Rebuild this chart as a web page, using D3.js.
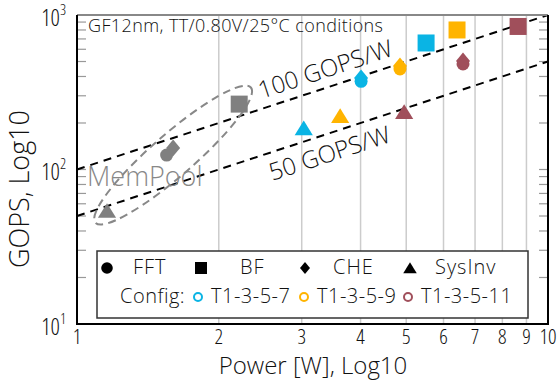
<!DOCTYPE html>
<html>
<head>
<meta charset="utf-8">
<script src="https://cdn.jsdelivr.net/npm/d3@7"></script>
<style>
  body { margin: 0; background: #fff; }
  text { font-family: "Open Sans", "Noto Sans", sans-serif; font-weight: 350; fill: #111; }
</style>
</head>
<body>
<svg id="chart" width="560" height="380"></svg>
<script>
// configs and their colours
const configs = ["MemPool", "T1-3-5-7", "T1-3-5-9", "T1-3-5-11"];
const colors = ["#808080", "#0ab4e4", "#ffb400", "#a04f5b"];

// values per benchmark, one entry per config (Power in W, GOPS)
const fftPower = [1.55, 4.01, 4.85, 6.60];
const fftGops = [124, 372, 447, 482];
const bfPower = [2.21, 5.51, 6.41, 8.64];
const bfGops = [265, 659, 800, 843];
const chePower = [1.60, 4.01, 4.85, 6.60];
const cheGops = [138, 391, 468, 504];
const sysPower = [1.158, 3.03, 3.62, 4.95];
const sysGops = [54, 185, 222, 236];

const benchmarks = ["FFT", "BF", "CHE", "SysInv"];
const xTicks = [1, 2, 3, 4, 5, 6, 7, 8, 9, 10];
const yTicks = [10, 100, 1000];
const efficiency = [100, 50]; // GOPS/W reference lines

const svg = d3.select("#chart");
const pLeft = 77, pRight = 548, pTop = 15, pBottom = 324;

const x = d3.scaleLog().domain([1, 10]).range([pLeft, pRight]);
const y = d3.scaleLog().domain([10, 1000]).range([pBottom, pTop]);

// vertical grid
svg.append("g").selectAll("line")
  .data(xTicks.slice(1, -1))
  .join("line")
  .attr("x1", d => x(d)).attr("x2", d => x(d))
  .attr("y1", pTop).attr("y2", pBottom)
  .attr("stroke", "#cccccc").attr("stroke-width", 1.5);

// minor y ticks on both sides
const minor = [];
[10, 100].forEach(dec => { for (let k = 2; k <= 9; k++) minor.push(dec * k); });
svg.append("g").selectAll("line")
  .data(minor.concat(yTicks))
  .join("line")
  .attr("x1", pLeft).attr("x2", pLeft + 9)
  .attr("y1", d => y(d)).attr("y2", d => y(d))
  .attr("stroke", "#999").attr("stroke-width", 1.2);
svg.append("g").selectAll("line")
  .data(minor.concat(yTicks))
  .join("line")
  .attr("x1", pRight - 9).attr("x2", pRight)
  .attr("y1", d => y(d)).attr("y2", d => y(d))
  .attr("stroke", "#999").attr("stroke-width", 1.2);

// efficiency lines
svg.append("g").selectAll("line")
  .data(efficiency)
  .join("line")
  .attr("x1", x(1)).attr("y1", d => y(d * 1))
  .attr("x2", x(10)).attr("y2", d => y(d * 10))
  .attr("stroke", "#000").attr("stroke-width", 2)
  .attr("stroke-dasharray", "8,6");

const angle = Math.atan2(y(1000) - y(100), x(10) - x(1)) * 180 / Math.PI;
svg.append("text")
  .attr("transform", `translate(${x(3.41)},${y(341) - 10}) rotate(${angle})`)
  .attr("text-anchor", "middle").attr("font-size", 24)
  .text("100 GOPS/W");
svg.append("text")
  .attr("transform", `translate(${x(3.48)},${y(174) + 29}) rotate(${angle})`)
  .attr("text-anchor", "middle").attr("font-size", 24)
  .text("50 GOPS/W");

// MemPool ellipse
const cx = x(1.6), cy = y(124);
svg.append("ellipse")
  .attr("transform", `translate(${cx},${cy}) rotate(-41)`)
  .attr("rx", 103).attr("ry", 21)
  .attr("fill", "none").attr("stroke", "#888").attr("stroke-width", 2)
  .attr("stroke-dasharray", "8,5");

svg.append("text")
  .attr("x", 87).attr("y", 186)
  .attr("font-size", 27).style("fill", "#888")
  .text("MemPool");

// marker shapes
function shape(kind, s) {
  if (kind === "FFT") return d3.symbol(d3.symbolCircle, Math.PI * s * s)();
  if (kind === "BF") return `M${-s},${-s}H${s}V${s}H${-s}Z`;
  if (kind === "CHE") return `M0,${-s * 1.2}L${s},0L0,${s * 1.2}L${-s},0Z`;
  return `M0,${-s * 1.1}L${s * 1.3},${s * 1.0}L${-s * 1.3},${s * 1.0}Z`;
}
const sizes = { FFT: 6.5, BF: 8.5, CHE: 7, SysInv: 7 };

const points = [];
configs.forEach((c, i) => {
  points.push({ b: "FFT", c: i, p: fftPower[i], g: fftGops[i] });
  points.push({ b: "CHE", c: i, p: chePower[i], g: cheGops[i] });
  points.push({ b: "BF", c: i, p: bfPower[i], g: bfGops[i] });
  points.push({ b: "SysInv", c: i, p: sysPower[i], g: sysGops[i] });
});
svg.append("g").selectAll("path")
  .data(points)
  .join("path")
  .attr("transform", d => `translate(${x(d.p)},${y(d.g)})`)
  .attr("d", d => shape(d.b, sizes[d.b]))
  .attr("fill", d => colors[d.c]);

// title
svg.append("text")
  .attr("x", 88).attr("y", 32).attr("font-size", 18).attr("letter-spacing", 0.4)
  .text("GF12nm, TT/0.80V/25°C conditions");

// legend
const lg = svg.append("g");
lg.append("rect")
  .attr("x", 97).attr("y", 251).attr("width", 431).attr("height", 67)
  .attr("fill", "#fff").attr("stroke", "#333").attr("stroke-width", 1.5);
const legX = [107, 201, 305, 410];
const legTx = [133, 240, 333, 435];
const legSz = { FFT: 5.8, BF: 6, CHE: 5, SysInv: 5.2 };
benchmarks.forEach((b, i) => {
  lg.append("path")
    .attr("transform", `translate(${legX[i]},268)`)
    .attr("d", shape(b, legSz[b]))
    .attr("fill", "#000");
  lg.append("text").attr("x", legTx[i]).attr("y", 274)
    .attr("font-size", 20).attr("letter-spacing", 1).text(b);
});
lg.append("text").attr("x", 120).attr("y", 303)
  .attr("font-size", 20).attr("letter-spacing", 0.5).text("Config:");
const cfgX = [198, 304, 408];
configs.slice(1).forEach((c, i) => {
  lg.append("circle").attr("cx", cfgX[i]).attr("cy", 297).attr("r", 4)
    .attr("fill", "none").attr("stroke", colors[i + 1]).attr("stroke-width", 2);
  lg.append("text").attr("x", cfgX[i] + 13).attr("y", 303)
    .attr("font-size", 20).attr("letter-spacing", 0.5).text(c);
});

// frame
svg.append("line").attr("x1", pLeft).attr("x2", pRight).attr("y1", pTop).attr("y2", pTop)
  .attr("stroke", "#888").attr("stroke-width", 2);
svg.append("path")
  .attr("d", `M${pLeft},${pTop}V${pBottom}H${pRight}V${pTop}`)
  .attr("fill", "none").attr("stroke", "#000").attr("stroke-width", 2);

// tick labels
svg.append("g").selectAll("text")
  .data(xTicks)
  .join("text")
  .attr("x", d => x(d)).attr("y", 344)
  .attr("text-anchor", "middle").attr("font-size", 21)
  .style("font-stretch", "87.5%")
  .text(d => d);
const yl = svg.append("g").selectAll("text")
  .data(yTicks)
  .join("text")
  .attr("x", 66).attr("y", d => y(d) + 10.5)
  .attr("text-anchor", "end").attr("font-size", 23)
  .style("font-stretch", "87.5%");
yl.append("tspan").text("10");
yl.append("tspan").attr("dy", -11).attr("font-size", 15).text(d => Math.round(Math.log10(d)));

// axis titles
svg.append("text")
  .attr("x", 313).attr("y", 374).attr("text-anchor", "middle").attr("font-size", 24)
  .style("font-stretch", "93%")
  .text("Power [W], Log10");
svg.append("text")
  .attr("transform", "translate(29,189) rotate(-90)")
  .attr("text-anchor", "middle").attr("font-size", 27)
  .text("GOPS, Log10");
</script>
</body>
</html>
